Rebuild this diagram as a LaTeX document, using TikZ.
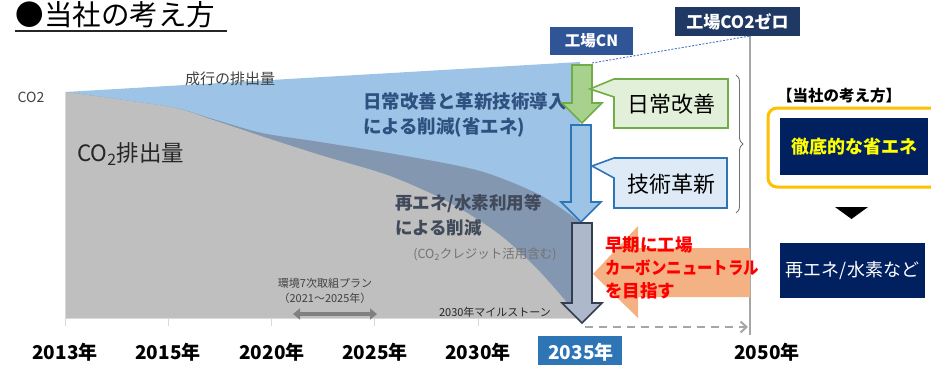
\documentclass[tikz,border=0pt]{standalone}
\usepackage{fontspec}
\setmainfont{Noto Sans CJK JP}
\usetikzlibrary{arrows.meta,decorations.pathreplacing}
\definecolor{lblue}{HTML}{9DC3E6}
\definecolor{dband}{HTML}{8497B0}
\definecolor{cgray}{HTML}{BFBFBF}
\definecolor{axgray}{HTML}{D9D9D9}
\definecolor{lngray}{HTML}{A6A6A6}
\definecolor{navy}{HTML}{002060}
\definecolor{navytwo}{HTML}{203864}
\definecolor{cnblue}{HTML}{2F5597}
\definecolor{gfill}{HTML}{A9D18E}
\definecolor{gline}{HTML}{70AD47}
\definecolor{bline}{HTML}{2E75B6}
\definecolor{gbox}{HTML}{E2F0D9}
\definecolor{bbox}{HTML}{DEEBF7}
\definecolor{slate}{HTML}{ADB9CA}
\definecolor{slateline}{HTML}{333F50}
\definecolor{orng}{HTML}{F4B183}
\definecolor{gold}{HTML}{FFC000}
\definecolor{txtblue}{HTML}{2F5180}
\definecolor{txtslate}{HTML}{404A5A}
\definecolor{dotblue}{HTML}{4472C4}
\definecolor{ylw}{HTML}{FFFF00}
\begin{document}
\begin{tikzpicture}[x=1pt,y=-1pt,
  txt/.style={inner sep=0pt,outer sep=0pt},
  yearlbl/.style={txt,font=\fontsize{19}{22}\selectfont\bfseries},
  tick/.style={axgray,line width=1pt},
  blockarrow/.style={line width=1.6pt,line join=miter},
  callout/.style={line width=1.6pt,line join=miter}]
\useasboundingbox (0,0) rectangle (931,364);

% title
\node[txt,anchor=west] (title) at (16,15) {\fontsize{28.5}{32}\selectfont ●当社の考え方};
\coordinate (ulA) at (15,31);
\coordinate (ulB) at (227,31);
\draw[line width=1.4pt,black!85] (ulA) -- (ulB);

% chart areas
\fill[lblue] (65,92) -- (580,62) -- (580,318) -- (65,318) -- cycle;
\fill[dband] plot[smooth] coordinates {(65,92) (170,107) (213,119) (262,133) (320,142) (400,155) (480,171) (540,195) (580,222)} -- (580,318) -- (65,318) -- cycle;
\fill[cgray] plot[smooth] coordinates {(65,92) (170,107) (213,120) (267,138) (320,155) (390,176) (450,203) (500,235) (540,272) (580,318)} -- (65,318) -- cycle;

% axes
\draw[axgray,line width=1pt] (65,92) -- (65,326);
\draw[axgray,line width=1pt] (65,318) -- (580,318);
\foreach \x in {168,271,374,478} \draw[tick] (\x,318) -- (\x,326);

% chart labels
\node[txt,text=black!75] (co2) at (31,97) {\fontsize{14}{16}\selectfont CO2};
\node[txt,text=black!75] (bau) at (230,79) {\fontsize{15}{18}\selectfont 成行の排出量};
\node[txt,text=black!85,anchor=west] (em) at (77,154) {\fontsize{22.5}{26}\selectfont CO\textsubscript{2}排出量};
\node[txt,text=txtblue,anchor=west,align=left,font=\fontsize{18.5}{25}\selectfont\bfseries] (sav) at (363,115) {日常改善と革新技術導入\\による削減(省エネ)};
\node[txt,text=txtslate,anchor=west,align=left,font=\fontsize{17.5}{25}\selectfont\bfseries] (ren) at (395,215) {再エネ/水素利用等\\による削減};
\node[txt,text=black!55] (cred) at (485,254) {\fontsize{12.5}{15}\selectfont (CO\textsubscript{2}クレジット活用含む)};
\node[txt,text=black!75,align=center,font=\fontsize{11}{15.5}\selectfont] (plan) at (325,291) {環境7次取組プラン\\（2021～2025年）};
\coordinate (planL) at (293,314);
\coordinate (planR) at (377,314);
\draw[black!50,line width=4.5pt,{Triangle[width=11pt,length=7pt]}-{Triangle[width=11pt,length=7pt]}] (planL) -- (planR);
\node[txt,text=black!85] (mile) at (495,312) {\fontsize{11}{13}\selectfont 2030年マイルストーン};

% year labels
\node[yearlbl] (y13) at (65,352) {2013年};
\node[yearlbl] (y15) at (168,352) {2015年};
\node[yearlbl] (y20) at (272,352) {2020年};
\node[yearlbl] (y25) at (375,352) {2025年};
\node[yearlbl] (y30) at (478,352) {2030年};
\fill[bline] (538,336) rectangle (622,366);
\node[yearlbl,text=white] (y35) at (581,352) {2035年};
\node[yearlbl] (y50) at (767,352) {2050年};

% vertical 2050 line and dashed arrow
\coordinate (vtop) at (750,36);
\coordinate (vbot) at (750,335);
\draw[lngray,line width=1.3pt] (vtop) -- (vbot);
\coordinate (dA) at (585,327);
\coordinate (dB) at (748,327);
\draw[lngray,line width=2pt,dash pattern=on 8pt off 6pt,-{Straight Barb[length=6pt,width=11pt]}] (dA) -- (dB);

% top boxes
\node[txt,fill=cnblue,text=white,minimum width=83pt,minimum height=28pt,font=\fontsize{15.5}{18}\selectfont\bfseries] (cn) at (591.5,41) {工場CN};
\node[txt,fill=navytwo,text=white,minimum width=125pt,minimum height=29pt,font=\fontsize{17}{20}\selectfont\bfseries] (zero) at (737.5,21.5) {工場CO2ゼロ};
\coordinate (dotA) at (592,63);
\draw[dotblue,line width=0.9pt,dash pattern=on 2pt off 1.5pt] (dotA) -- (vtop);

% block arrows
\draw[blockarrow,fill=gfill,draw=gline] (572,65) -- (592,65) -- (592,103) -- (602,103) -- (582,123) -- (562,103) -- (572,103) -- cycle;
\draw[blockarrow,fill=lblue,draw=bline] (571,125) -- (591,125) -- (591,202) -- (601,202) -- (581,222) -- (561,202) -- (571,202) -- cycle;
\draw[blockarrow,fill=slate,draw=slateline] (572,223) -- (592,223) -- (592,303) -- (602,303) -- (582,323) -- (562,303) -- (572,303) -- cycle;

% callouts
\draw[callout,fill=gbox,draw=gline] (590,89) -- (614,79) -- (728,79) -- (728,128) -- (614,128) -- (614,97) -- cycle;
\node[txt] (daily) at (671,104) {\fontsize{22}{26}\selectfont 日常改善};
\draw[callout,fill=bbox,draw=bline] (592,166) -- (614,158) -- (727,158) -- (727,208) -- (614,208) -- (614,178) -- cycle;
\node[txt] (tech) at (671,184) {\fontsize{22}{26}\selectfont 技術革新};

% brace
\draw[black!55,line width=0.9pt,decorate,decoration={brace,amplitude=7pt}] (736,75) -- (736,213);

% orange arrow
\fill[orng] (750,248) -- (638,248) -- (638,226) -- (593,274) -- (638,318) -- (638,297) -- (750,297) -- cycle;
\node[txt,anchor=west,align=left,text=red,font=\fontsize{17.5}{23}\selectfont\bfseries] (early) at (605,268) {早期に工場\\\scalebox{0.88}[1]{カーボンニュートラル}\\を目指す};

% right panel
\node[txt] (policy) at (839,96) {\fontsize{15.5}{18}\selectfont\bfseries 【当社の考え方】};
\draw[gold,line width=3pt,rounded corners=9pt,fill=white] (768,108) rectangle (940,187);
\node[txt,fill=navy,minimum width=148pt,minimum height=57pt,text=ylw,font=\fontsize{18}{22}\selectfont\bfseries] (save) at (854,146.5) {徹底的な省エネ};
\fill[black] (835,207) -- (868,207) -- (851.5,219) -- cycle;
\node[txt,fill=navy,minimum width=145pt,minimum height=55pt,text=white,font=\fontsize{18}{22}\selectfont] (renew) at (852.5,270.5) {再エネ/水素など};
\end{tikzpicture}
\end{document}
